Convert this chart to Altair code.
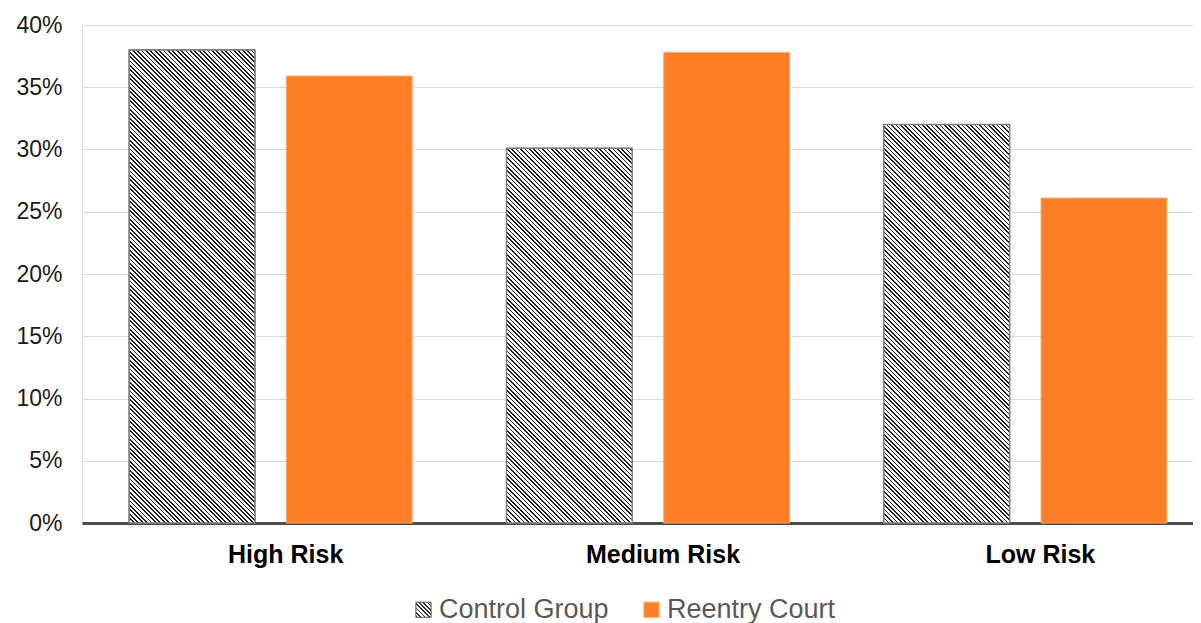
import json
import math
import altair as alt
import pandas as pd

categories = ["High Risk", "Medium Risk", "Low Risk"]
groups = ["Control Group", "Reentry Court"]
control = [0.380, 0.301, 0.320]
reentry = [0.359, 0.378, 0.261]

rows = []
for c, a, b in zip(categories, control, reentry):
    rows.append({"risk": c, "group": groups[0], "value": a})
    rows.append({"risk": c, "group": groups[1], "value": b})
df = pd.DataFrame(rows)

W = 1111          # visible plot width (svg stays inside the window)
X_RANGE = 1132    # band range, runs past the right edge like the reference
H = 498
Y_MAX = 0.4
P_IN, P_OUT = 0.2, 0.3
band = X_RANGE / len(categories)
step = band / (2 - P_IN + 2 * P_OUT)
bar_w = step * (1 - P_IN)

FONT = "Liberation Sans"
ORANGE = "#FF7F27"


def hatch(w, h, period=4.4, dark_frac=0.38, dark="#1e1e1e", light="#ffffff"):
    r = h / w
    d = 1 + r * r
    L = (w + h) / math.sqrt(2)
    P = period / math.sqrt(2)
    stops = []
    k = 0
    while k * P < L:
        a = k * P / L
        b = min((k * P + dark_frac * P) / L, 1.0)
        c = min((k + 1) * P / L, 1.0)
        stops += [
            {"offset": round(a, 5), "color": dark},
            {"offset": round(b, 5), "color": dark},
            {"offset": round(b, 5), "color": light},
            {"offset": round(c, 5), "color": light},
        ]
        k += 1
    return {
        "gradient": "linear",
        "x1": round(-r / d, 6), "y1": round(r * r / d, 6),
        "x2": round(1 / d, 6), "y2": round(-r / d, 6),
        "stops": stops,
    }


legend_hatch = alt.ExprRef(json.dumps(hatch(15, 15, period=4.2, dark_frac=0.4, dark="#333333")))


def make_legend():
    return alt.Legend(title=None, orient="none", direction="horizontal",
                      legendX=328, legendY=571,
                      symbolType="square", symbolSize=230,
                      symbolStrokeWidth=1,
                      labelFontSize=27, labelFont=FONT, labelLimit=400,
                      labelColor="#595959", labelOffset=2,
                      columnPadding=29)


x_enc = alt.X("risk:N", sort=categories, title=None,
              scale=alt.Scale(domain=categories, range=[0, X_RANGE],
                              paddingInner=0, paddingOuter=0),
              axis=alt.Axis(labelFontSize=25, labelFontWeight="bold", labelColor="#000000",
                            labelFont=FONT, labelPadding=19, labelOffset=15, ticks=False,
                            domainColor="#4d4d4d", domainWidth=3, labelAngle=0))
xo_enc = alt.XOffset("group:N", sort=groups,
                     scale=alt.Scale(domain=groups, paddingInner=P_IN, paddingOuter=P_OUT))
y_enc = alt.Y("value:Q", title=None,
              scale=alt.Scale(domain=[0, Y_MAX], nice=False),
              axis=alt.Axis(format=".0%", values=[i * 0.05 for i in range(9)],
                            labelFontSize=23, labelColor="#1a1a1a", labelFont=FONT,
                            labelPadding=20, ticks=False, domain=False,
                            gridColor="#d9d9d9", gridWidth=1.2))

base = alt.Chart(df).mark_bar(strokeWidth=1).encode(
    x=x_enc, xOffset=xo_enc, y=y_enc,
    color=alt.Color("group:N", sort=groups,
                    scale=alt.Scale(domain=groups, range=[legend_hatch, ORANGE]),
                    legend=make_legend()),
    stroke=alt.Stroke("group:N", sort=groups,
                      scale=alt.Scale(domain=groups, range=["#555555", "#FFA66E"]),
                      legend=make_legend()),
)

layers = [base]
for c, v in zip(categories, control):
    h = v / Y_MAX * H
    layers.append(
        alt.Chart(df).transform_filter(
            (alt.datum.risk == c) & (alt.datum.group == groups[0])
        ).mark_bar(fill=hatch(bar_w, h), stroke="#7f7f7f", strokeWidth=1.5).encode(
            x=x_enc, xOffset=xo_enc, y=y_enc
        )
    )

chart = alt.layer(*layers).properties(
    width=W, height=H,
    autosize=alt.AutoSizeParams(type="none"),
    padding={"left": 74, "top": 17, "right": 0, "bottom": 100},
).configure_view(stroke=None).configure(font=FONT)

chart.save("out.html", embed_options={"renderer": "svg", "actions": False})
